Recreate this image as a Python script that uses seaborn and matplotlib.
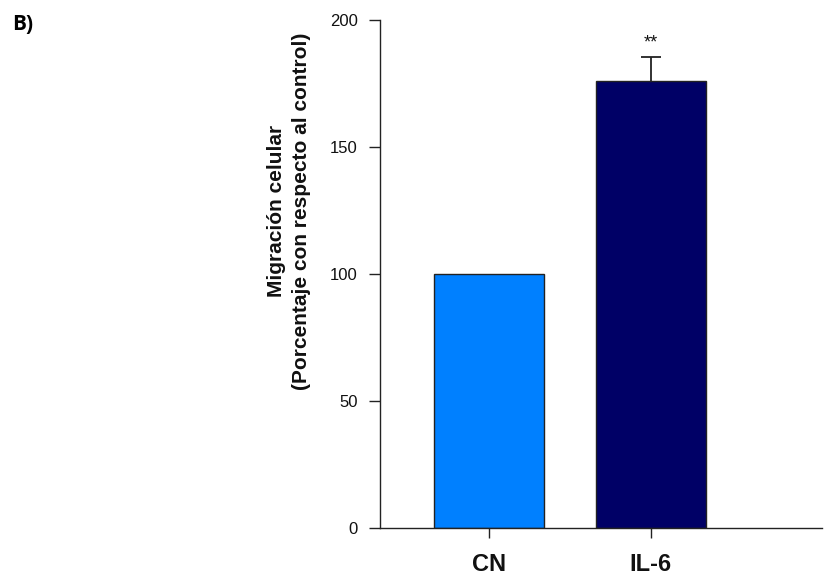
import matplotlib
matplotlib.use("Agg")
import matplotlib.pyplot as plt
import seaborn as sns
import pandas as pd

categories = ["CN", "IL-6"]
values = [100, 176]
errors_upper = [0, 9.5]
significance = ["", "**"]
bar_colors = ["#0080FF", "#000066"]
y_ticks = [0, 50, 100, 150, 200]

sns.set_theme(style="white")
plt.rcParams["font.family"] = ["Liberation Sans", "DejaVu Sans"]

df = pd.DataFrame({"grupo": categories, "valor": values})

fig = plt.figure(figsize=(8.26, 5.76), dpi=100)
ax = fig.add_axes([380 / 826, 48 / 576, 442 / 826, 508 / 576])

sns.barplot(data=df, x="grupo", y="valor", hue="grupo", palette=bar_colors,
            legend=False, width=0.68, edgecolor="#222222", linewidth=1.0,
            errorbar=None, ax=ax, saturation=1)

for i, (v, e, s) in enumerate(zip(values, errors_upper, significance)):
    if e > 0:
        eb = ax.errorbar(i, v, yerr=[[0], [e]], fmt="none", ecolor="#222222",
                         elinewidth=1.3, capsize=7, capthick=1.3, zorder=5)
        caps = eb.lines[1]
        if len(caps) > 1:
            caps[0].set_visible(False)
    if s:
        ax.text(i, v + e + 2.0, s, ha="center", va="bottom", fontsize=13,
                color="#111111")

ax.set_ylim(0, 200)
ax.set_xlim(-0.673, 2.06)
ax.set_yticks(y_ticks)
ax.set_yticklabels([str(t) for t in y_ticks], fontsize=12, color="#111111")
ax.set_xticks(range(len(categories)))
ax.set_xticklabels(categories, fontsize=17, fontweight="bold", color="#111111")
ax.set_xlabel("")
ax.set_ylabel("")

fig.text(289 / 826, 1 - 211 / 576,
         "Migración celular\n(Porcentaje con respecto al control)",
         rotation=90, ha="center", va="center", fontsize=15,
         fontweight="bold", linespacing=1.45, color="#111111",
         multialignment="center")

for sp in ["top", "right"]:
    ax.spines[sp].set_visible(False)
for sp in ["left", "bottom"]:
    ax.spines[sp].set_color("#222222")
    ax.spines[sp].set_linewidth(1.0)

ax.tick_params(axis="y", which="both", left=True, length=8, width=1.0,
               color="#222222", pad=8)
ax.tick_params(axis="x", which="both", bottom=True, length=7, width=1.0,
               color="#222222", pad=11)

fig.text(12 / 826, 1 - 24 / 576, "B)", fontsize=15, fontweight="bold",
         family=["Open Sans", "DejaVu Sans"], va="center", ha="left",
         color="#000000")

fig.savefig("out.png", dpi=100)
